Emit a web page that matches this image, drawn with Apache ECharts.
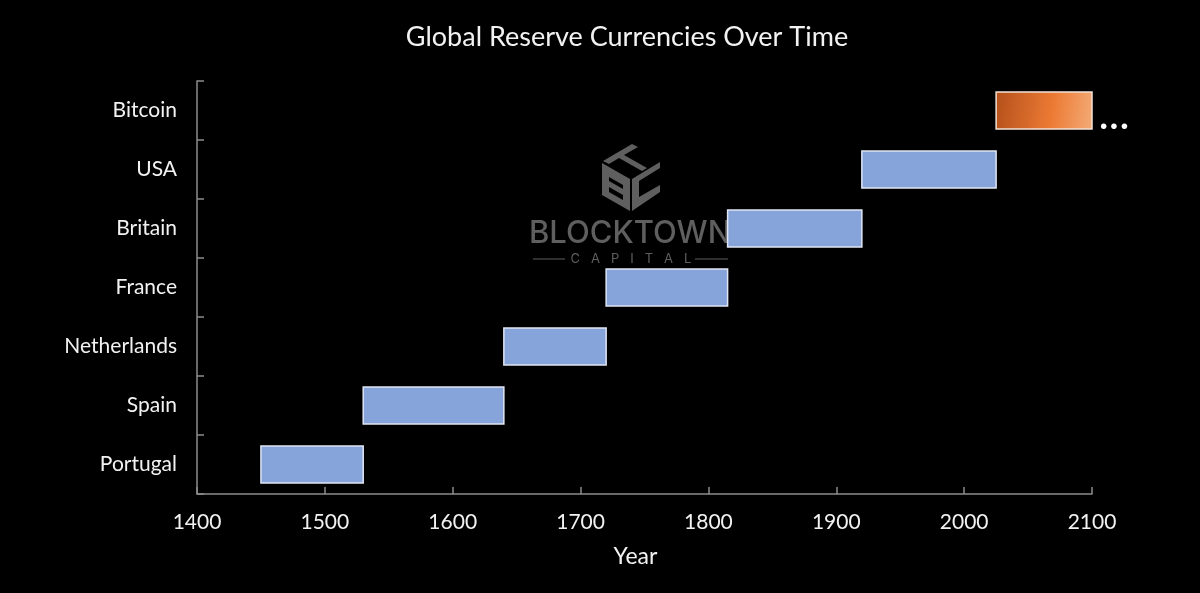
<!DOCTYPE html>
<html>
<head>
<meta charset="utf-8">
<style>
html, body { margin: 0; padding: 0; background: #000; }
#main { width: 1200px; height: 593px; }
</style>
<script src="https://cdn.jsdelivr.net/npm/echarts@6/dist/echarts.min.js"></script>
</head>
<body>
<div id="main"></div>
<script>
var countries = ['Portugal', 'Spain', 'Netherlands', 'France', 'Britain', 'USA', 'Bitcoin'];
var startYears = [1450, 1530, 1640, 1720, 1815, 1920, 2025];
var endYears = [1530, 1640, 1720, 1815, 1920, 2025, 2100];

var FONT = 'Lato';
var GREY = '#5f5f5f';

var spans = countries.map(function (name, i) {
    return [startYears[i], endYears[i], i];
});

function renderBar(params, api) {
    var start = api.coord([api.value(0), api.value(2)]);
    var end = api.coord([api.value(1), api.value(2)]);
    var h = api.size([0, 1])[1] * 0.63;
    var isBitcoin = params.dataIndex === countries.length - 1;
    var fill = isBitcoin ? new echarts.graphic.LinearGradient(0, 0, 1, 0.35, [
        { offset: 0, color: '#b4501b' },
        { offset: 0.6, color: '#ec7a34' },
        { offset: 1, color: '#f3a873' }
    ]) : '#86a3da';
    return {
        type: 'rect',
        shape: { x: start[0], y: start[1] - h / 2, width: end[0] - start[0], height: h },
        style: { fill: fill, stroke: isBitcoin ? '#f3e2d6' : '#dfe6f4', lineWidth: 1.5 }
    };
}

// watermark, sits behind the bars
var logo = [
    { type: 'polygon', shape: { points: [[632, 144], [638, 147], [624, 155], [647, 168], [642, 171], [619, 158], [609, 164], [603, 161]] }, style: { fill: GREY } },
    { type: 'polygon', shape: { points: [[602, 163], [630, 179], [630, 211], [602, 195]] }, style: { fill: GREY } },
    { type: 'polygon', shape: { points: [[609, 177], [623, 185], [623, 189], [609, 181]] }, style: { fill: '#000' } },
    { type: 'polygon', shape: { points: [[609, 187], [623, 195], [623, 200], [609, 192]] }, style: { fill: '#000' } },
    { type: 'polygon', shape: { points: [[632, 179], [660, 162], [660, 168], [639, 181], [639, 197], [660, 185], [660, 192], [632, 211]] }, style: { fill: GREY } },
    { type: 'text', style: { x: 630, y: 234, text: 'BLOCKTOWN', fill: GREY, font: '500 31px Inter', align: 'center', verticalAlign: 'middle' } },
    { type: 'text', style: { x: 631, y: 259, text: 'C   A   P   I   T   A   L', fill: GREY, font: '13px Inter', align: 'center', verticalAlign: 'middle' } },
    { type: 'rect', shape: { x: 533, y: 258.5, width: 32, height: 1 }, style: { fill: GREY } },
    { type: 'rect', shape: { x: 695, y: 258.5, width: 33, height: 1 }, style: { fill: GREY } },
    { type: 'text', style: { x: 1114, y: 115, text: '...', fill: '#fff', font: 'normal 44px ' + FONT, align: 'center', verticalAlign: 'middle' } }
];

var myChart = echarts.init(document.getElementById('main'));

var option = {
    backgroundColor: '#000',
    animation: false,
    title: {
        text: 'Global Reserve Currencies Over Time',
        left: 622,
        top: 19,
        textAlign: 'center',
        textStyle: { color: '#f2f2f2', fontFamily: FONT, fontWeight: 'normal', fontSize: 27 }
    },
    grid: { left: 197, right: 108, top: 81, bottom: 99 },
    xAxis: {
        type: 'value',
        min: 1400,
        max: 2100,
        interval: 100,
        name: 'Year',
        nameLocation: 'middle',
        nameGap: 51,
        nameTextStyle: { color: '#f2f2f2', fontFamily: FONT, fontSize: 23, padding: [0, 18, 0, 0] },
        splitLine: { show: false },
        axisLine: { show: true, lineStyle: { color: '#8c8c8c', width: 1.5 } },
        axisTick: { show: true, inside: true, length: 7, lineStyle: { color: '#8c8c8c', width: 1.5 } },
        axisLabel: {
            color: '#f2f2f2', fontFamily: FONT, fontSize: 21, margin: 18,
            showMinLabel: true, showMaxLabel: true, hideOverlap: false,
            formatter: function (v) { return String(v); }
        }
    },
    yAxis: {
        type: 'category',
        data: countries,
        axisLine: { show: true, lineStyle: { color: '#8c8c8c', width: 1.5 } },
        axisTick: { show: true, inside: true, length: 7, lineStyle: { color: '#8c8c8c', width: 1.5 } },
        axisLabel: { color: '#f2f2f2', fontFamily: FONT, fontSize: 21, margin: 20, interval: 0, padding: [0, 0, 6, 0] }
    },
    graphic: { elements: logo },
    series: [{
        type: 'custom',
        z: 10,
        renderItem: renderBar,
        encode: { x: [0, 1], y: 2 },
        data: spans
    }]
};
myChart.setOption(option);
</script>
</body>
</html>
